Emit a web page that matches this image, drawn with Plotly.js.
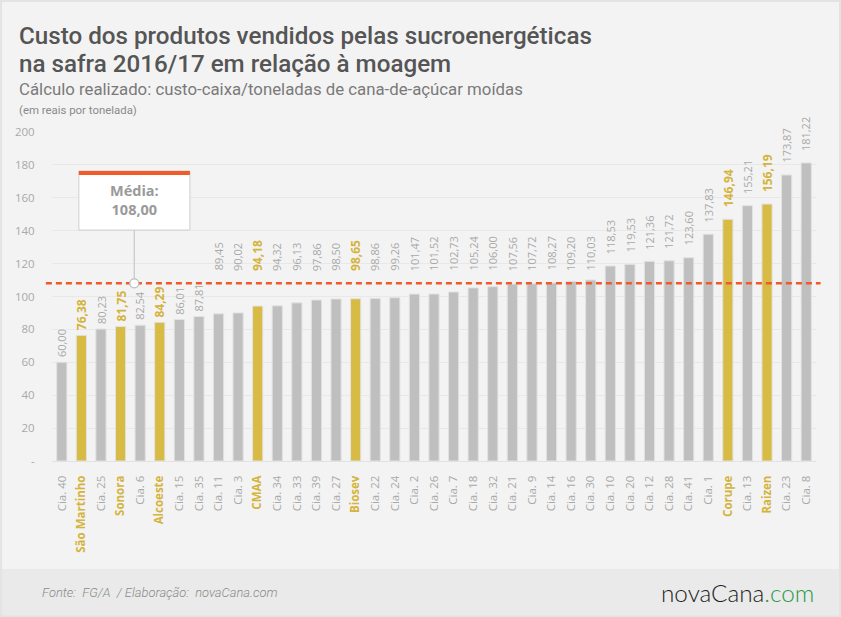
<!DOCTYPE html>
<html>
<head>
<meta charset="utf-8">
<script src="https://cdn.plot.ly/plotly-3.0.1.min.js"></script>
<style>
  html, body { margin: 0; padding: 0; background: #f3f3f3; }
  #chart { width: 841px; height: 617px; }
</style>
</head>
<body>
<div id="chart"></div>
<script>
// ---- Data ----
var categories = ["Cia. 40","São Martinho","Cia. 25","Sonora","Cia. 6","Alcoeste","Cia. 15","Cia. 35","Cia. 11","Cia. 3","CMAA","Cia. 34","Cia. 33","Cia. 39","Cia. 27","Biosev","Cia. 22","Cia. 24","Cia. 2","Cia. 26","Cia. 7","Cia. 18","Cia. 32","Cia. 21","Cia. 9","Cia. 14","Cia. 16","Cia. 30","Cia. 10","Cia. 20","Cia. 12","Cia. 28","Cia. 41","Cia. 1","Corupe","Cia. 13","Raizen","Cia. 23","Cia. 8"];
var values = [60.00,76.38,80.23,81.75,82.54,84.29,86.01,87.81,89.45,90.02,94.18,94.32,96.13,97.86,98.50,98.65,98.86,99.26,101.47,101.52,102.73,105.24,106.00,107.56,107.72,108.27,109.20,110.03,118.53,119.53,121.36,121.72,123.60,137.83,146.94,155.21,156.19,173.87,181.22];
var highlighted = ["São Martinho","Sonora","Alcoeste","CMAA","Biosev","Corupe","Raizen"];
var average = 108.00;
var yTickVals = [0,20,40,60,80,100,120,140,160,180,200];
var yTickText = ["-","20","40","60","80","100","120","140","160","180","200"];

// ---- Styles ----
var GRAY = "#bfbfc0", YEL = "#d7bb45", LBL = "#a9a9a9", YTXT = "#d4b43c";
var FONT = "Open Sans, sans-serif";

var isHi = categories.map(function(c){ return highlighted.indexOf(c) >= 0; });
var barColors = isHi.map(function(h){ return h ? YEL : GRAY; });
var xTickText = categories.map(function(c, i){
  return isHi[i] ? '<span style="color:' + YTXT + '"><b>' + c + '</b></span>' : c;
});

function fmt(v){ return v.toFixed(2).replace(".", ","); }

var trace = {
  type: "bar",
  x: categories,
  y: values,
  marker: { color: barColors, line: { color: "#e2e2e2", width: 1 } },
  width: 0.52,
  hoverinfo: "x+y"
};

// value labels: kept clear of the average line
var valueLabels = categories.map(function(c, i){
  var v = values[i];
  var y = v, shift = 4;
  if (v >= 88 && v < 112) { y = 115; shift = 0; }
  else if (v >= 112) { shift = 11; }
  return {
    xref: "x", yref: "y", x: c, y: y, yshift: shift,
    xanchor: "center", yanchor: "bottom", textangle: -90,
    text: isHi[i] ? "<b>" + fmt(v) + "</b>" : fmt(v),
    showarrow: false, borderpad: 0,
    font: { family: FONT, size: isHi[i] ? 12 : 11, color: isHi[i] ? YTXT : LBL }
  };
});

var n = categories.length;
var boxX0 = 0.87, boxX1 = 6.54, boxXc = 3.70;

var annotations = [
  { xref: "paper", yref: "paper", x: -0.0445, y: 1.2905, xanchor: "left", yanchor: "middle",
    text: "Custo dos produtos vendidos pelas sucroenergéticas", showarrow: false, borderpad: 0,
    font: { family: "Roboto, sans-serif", size: 24.2, color: "#555555", weight: 500 } },
  { xref: "paper", yref: "paper", x: -0.0445, y: 1.2055, xanchor: "left", yanchor: "middle",
    text: "na safra 2016/17 em relação à moagem", showarrow: false, borderpad: 0,
    font: { family: "Roboto, sans-serif", size: 24.2, color: "#555555", weight: 500 } },
  { xref: "paper", yref: "paper", x: -0.0445, y: 1.132, xanchor: "left", yanchor: "middle",
    text: "Cálculo realizado: custo-caixa/toneladas de cana-de-açúcar moídas", showarrow: false, borderpad: 0,
    font: { family: "Roboto, sans-serif", size: 16.8, color: "#7a7a7a" } },
  { xref: "paper", yref: "paper", x: -0.0445, y: 1.067, xanchor: "left", yanchor: "middle",
    text: "(em reais por tonelada)", showarrow: false, borderpad: 0,
    font: { family: "Roboto, sans-serif", size: 11.4, color: "#8a8a8a" } },
  { xref: "x", yref: "y", x: boxXc, y: 158.5, xanchor: "center", yanchor: "middle",
    text: "<b>Média:<br>108,00</b>", showarrow: false, align: "center",
    font: { family: FONT, size: 14.5, color: "#9a9a9a" } },
  { xref: "paper", yref: "paper", x: -0.016, y: -0.401, xanchor: "left", yanchor: "middle",
    text: "<i>Fonte:  FG/A  / Elaboração:  novaCana.com</i>", showarrow: false,
    font: { family: "Roboto, sans-serif", size: 12.9, color: "#8a8a8a", weight: 300 } },
  { xref: "paper", yref: "paper", x: 1.0, y: -0.401, xanchor: "right", yanchor: "middle",
    text: 'novaCana<span style="color:#2a9a48">.com</span>', showarrow: false,
    font: { family: "Lato, sans-serif", size: 24.3, color: "#1e1e1e", weight: 300 } }
].concat(valueLabels);

var layout = {
  width: 841, height: 617,
  separators: ",.",
  paper_bgcolor: "#f3f3f3",
  plot_bgcolor: "#f3f3f3",
  showlegend: false,
  margin: { l: 52, r: 25, t: 132, b: 156 },
  bargap: 0,
  xaxis: {
    type: "category",
    categoryorder: "array",
    categoryarray: categories,
    tickmode: "array",
    tickvals: categories,
    ticktext: xTickText,
    tickangle: -90,
    ticks: "outside", ticklen: 9, tickcolor: "rgba(0,0,0,0)",
    tickfont: { color: LBL, size: 11.5, family: FONT },
    showgrid: false,
    showline: true, linecolor: "#e2e2e2", linewidth: 1,
    zeroline: false,
    range: [-0.5, n - 0.5],
    fixedrange: true
  },
  yaxis: {
    range: [0, 200],
    tickmode: "array",
    tickvals: yTickVals,
    ticktext: yTickText,
    ticks: "outside", ticklen: 14, tickcolor: "rgba(0,0,0,0)",
    tickfont: { color: LBL, size: 11.5, family: FONT },
    showgrid: true, gridcolor: "#e8e8e8", gridwidth: 1,
    zeroline: false,
    showline: false,
    fixedrange: true
  },
  shapes: [
    { type: "rect", xref: "paper", yref: "paper", x0: -0.07, x1: 1.04, y0: -0.328, y1: -0.48,
      fillcolor: "#e9eae9", line: { width: 0 }, layer: "below" },
    { type: "rect", xref: "paper", yref: "paper", x0: -0.0667, x1: 1.0314, y0: -0.4727, y1: 1.3982,
      fillcolor: "rgba(0,0,0,0)", line: { color: "#e3e3e3", width: 2 }, layer: "above" },
    { type: "line", xref: "paper", yref: "y", x0: -0.008, x1: 1.006, y0: average, y1: average,
      line: { color: "#f05a2a", width: 2.5, dash: "6px,4px" }, layer: "above" },
    { type: "line", xref: "x", yref: "y", x0: boxXc, x1: boxXc, y0: 140.4, y1: average + 2,
      line: { color: "#c8c8c8", width: 1.2 }, layer: "above" },
    { type: "rect", xref: "x", yref: "y", x0: boxX0, x1: boxX1, y0: 140.4, y1: 176.3,
      fillcolor: "#ffffff", line: { color: "#cfcfcf", width: 1 }, layer: "above" },
    { type: "rect", xref: "x", yref: "y", x0: boxX0, x1: boxX1, y0: 173.8, y1: 176.3,
      fillcolor: "#f25a2a", line: { width: 0 }, layer: "above" },
    { type: "circle", xref: "x", yref: "y", xsizemode: "pixel", ysizemode: "pixel",
      xanchor: boxXc, yanchor: average, x0: -4.5, x1: 4.5, y0: -4.5, y1: 4.5,
      fillcolor: "#ffffff", line: { color: "#bdbdbd", width: 1.2 }, layer: "above" }
  ],
  annotations: annotations
};

Plotly.newPlot("chart", [trace], layout, { displayModeBar: false, staticPlot: true });
</script>
</body>
</html>
